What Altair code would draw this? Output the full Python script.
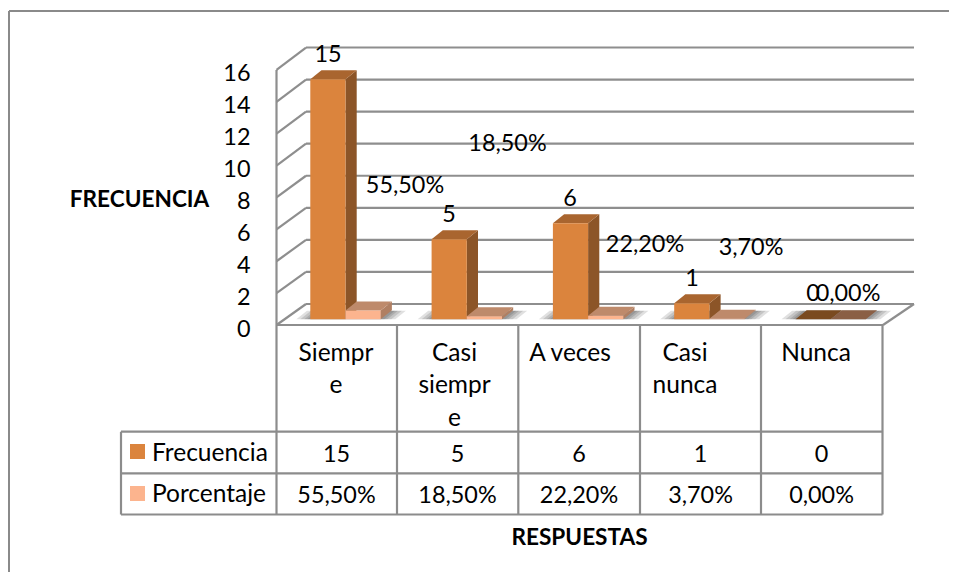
import altair as alt
import pandas as pd

CATEGORIAS = ["Siempr\ne", "Casi\nsiempr\ne", "A veces", "Casi\nnunca", "Nunca"]
FRECUENCIA = [15, 5, 6, 1, 0]
PORCENTAJE = [0.555, 0.185, 0.222, 0.037, 0.0]
NOMBRES = ["Frecuencia", "Porcentaje"]
EJE_Y = [0, 2, 4, 6, 8, 10, 12, 14, 16]

W, H = 941, 564
FONT = "Lato"
FS = 23.4
FS_WORD = 24.5
FS_TITLE = 22.6
GRID = "#8E8E8E"
TABLE = "#8C8C8C"

# pixel layout helpers (image coordinates -> data units)
X0, UX = 276.5, 121.3
Y0, UY = 319.3, 16.0
fx = lambda p: (p - X0) / UX
fy = lambda p: (Y0 - p) / UY
xdom = [fx(8), fx(8 + W)]
ydom = [fy(8 + H), fy(8)]
xs = alt.Scale(domain=xdom, range=[0, W], nice=False, zero=False)
ys = alt.Scale(domain=ydom, range=[H, 0], nice=False, zero=False)

BAR_W = 35.2 / UX
DX = 11.2 / UX
DY = 9.0 / UY
START = 33.8 / UX
PITCH = 1.0

bars, faces, shadows = [], [], []
PAL = [
    dict(front="#DB843D", side="#8C5528", top="#A9652F", top0="#7A4A1F"),
    dict(front="#FCB48E", side="#B07F62", top="#BE8A6B", top0="#8A5F45"),
]
for i in range(len(CATEGORIAS)):
    left = i * PITCH + START
    for s in (14, 10, 6, 3):
        sp = s / UX
        a, b = left - sp, left + 2 * BAR_W + DX + sp
        f0, b0 = 0.0, DY * 0.95
        d = DX * 0.95
        for k, (xx, y1, y2) in enumerate(
            [(a, f0, f0), (a + d, b0, f0), (b - d, b0, f0), (b, b0, b0)]
        ):
            shadows.append(dict(g=f"{i}-{s}", x=xx, y=y1, y2=y2))
    for j, serie in enumerate((FRECUENCIA, PORCENTAJE)):
        v = serie[i]
        xl = left + j * BAR_W
        xr = xl + BAR_W
        pal = PAL[j]
        bars.append(dict(x=xl, x2=xr, y=0, y2=v, color=pal["front"]))
        # side face
        if v > 0:
            for xx, y1, y2 in [(xr, v, 0), (xr + DX, v + DY, DY)]:
                faces.append(dict(g=f"s{i}{j}", x=xx, y=y1, y2=y2, color=pal["side"]))
        # top face
        top = pal["top"] if v > 0 else pal["top0"]
        for xx, y1, y2 in [
            (xl, v, v),
            (xl + DX, v + DY, v),
            (xr, v + DY, v),
            (xr + DX, v + DY, v + DY),
        ]:
            faces.append(dict(g=f"t{i}{j}", x=xx, y=y1, y2=y2, color=top))

bars = pd.DataFrame(bars)
faces = pd.DataFrame(faces)
shadows = pd.DataFrame(shadows)


def segs(rows):
    return pd.DataFrame(
        [dict(x=fx(a), x2=fx(c), y=fy(b), y2=fy(d)) for a, b, c, d in rows]
    )


# walls
back_y = lambda v: 304 - v * 16.03
front_y = lambda v: 325 - v * 15.94
grid_rows = []
for v in EJE_Y:
    grid_rows.append((306, back_y(v), 914, back_y(v)))
    grid_rows.append((276.5, front_y(v), 306, back_y(v)))
grid_rows.append((276.5, front_y(16), 276.5, front_y(0)))
grid_rows.append((276.5, 325, 883, 325))
grid_rows.append((883, 325, 914, 304))
grid = segs(grid_rows)

# data table rules
VX = [276.5, 397, 518.3, 640, 761, 882.5]
table_rows = [(x, 325, x, 514.5) for x in VX]
table_rows += [(121, 431.7, 121, 514.5)]
table_rows += [(121, y, 882.5, y) for y in (431.7, 473.3, 514.5)]
table = segs(table_rows)

# category labels
CAT_X = [336, 454.5, 570, 685, 816]
cats = pd.DataFrame(
    dict(x=[fx(p) for p in CAT_X], y=[fy(341.5)] * 5, t=CATEGORIAS)
)

# table values
CELL_X = [336.5, 457.5, 579, 700.5, 821.5]
pct_txt = [f"{v * 100:.2f}%".replace(".", ",") for v in PORCENTAJE]
cells = pd.DataFrame(
    dict(
        x=[fx(p) for p in CELL_X] * 2,
        y=[fy(455)] * 5 + [fy(496)] * 5,
        t=[str(v) for v in FRECUENCIA] + pct_txt,
    )
)

# legend keys in table
legend_txt = pd.DataFrame(dict(x=[fx(152)] * 2, y=[fy(454), fy(495)], t=NOMBRES))
swatches = pd.DataFrame(
    dict(
        x=[fx(130)] * 2,
        x2=[fx(145)] * 2,
        y=[fy(444), fy(486)],
        y2=[fy(459), fy(501)],
        color=[PAL[0]["front"], PAL[1]["front"]],
    )
)

# data labels
F_POS = [(328, 55), (449, 215), (570, 199), (692, 279), (813, 294)]
P_POS = [(405, 186), (507.5, 144), (645, 245), (751, 248), (848, 294)]
labels = pd.DataFrame(
    dict(
        x=[fx(a) for a, _ in F_POS + P_POS],
        y=[fy(b) for _, b in F_POS + P_POS],
        t=[str(v) for v in FRECUENCIA] + pct_txt,
    )
)

# the frame shows on its top and left sides only
frame = segs([(9, 11, 949, 11), (9, 11, 9, 572)])

X = alt.X(
    "x:Q",
    scale=xs,
    axis=alt.Axis(
        title="RESPUESTAS",
        labels=False,
        ticks=False,
        domain=False,
        grid=False,
        titleFont=FONT,
        titleFontSize=FS_TITLE,
        titleFontWeight="bold",
        titleColor="#000000",
        titleX=571,
        titleY=529 - H,
        titleAlign="center",
        titleBaseline="middle",
    ),
)
Y = alt.Y(
    "y:Q",
    scale=ys,
    axis=alt.Axis(
        title="FRECUENCIA",
        values=EJE_Y,
        offset=-242,
        ticks=False,
        domain=False,
        grid=False,
        labelPadding=0,
        labelOffset=10.5,
        labelFont=FONT,
        labelFontSize=FS,
        labelColor="#000000",
        titleFont=FONT,
        titleFontSize=FS_TITLE,
        titleFontWeight="bold",
        titleColor="#000000",
        titleAngle=0,
        titleX=131 - 242,
        titleY=191,
        titleAlign="center",
        titleBaseline="middle",
    ),
)


def rules(df, color, width):
    return (
        alt.Chart(df)
        .mark_rule(color=color, strokeWidth=width)
        .encode(x=X, x2="x2:Q", y=Y, y2="y2:Q")
    )


def texts(df, **kw):
    opts = dict(font=FONT, fontSize=FS, color="#000000", baseline="middle")
    opts.update(kw)
    return alt.Chart(df).mark_text(**opts).encode(x=X, y=Y, text="t:N")


layers = [
    rules(frame, "#8A8A8A", 2),
    rules(grid, GRID, 2.2),
    alt.Chart(shadows)
    .mark_area(color="#000000", opacity=0.12)
    .encode(x=X, y=Y, y2="y2:Q", detail="g:N"),
    alt.Chart(faces)
    .mark_area()
    .encode(
        x=X,
        y=Y,
        y2="y2:Q",
        detail="g:N",
        color=alt.Color("color:N", scale=None),
    ),
    alt.Chart(bars)
    .mark_bar()
    .encode(
        x=X, x2="x2:Q", y=Y, y2="y2:Q",
        color=alt.Color("color:N", scale=None),
    ),
    rules(table, TABLE, 2.2),
    alt.Chart(swatches)
    .mark_rect()
    .encode(x=X, x2="x2:Q", y=Y, y2="y2:Q", color=alt.Color("color:N", scale=None)),
    texts(cats, lineBreak="\n", lineHeight=32.5, baseline="top", fontSize=FS_WORD),
    texts(cells),
    texts(legend_txt, align="left", fontSize=FS_WORD),
    texts(labels),
]

chart = (
    alt.layer(*layers)
    .properties(
        width=W,
        height=H,
        padding=0,
        autosize=alt.AutoSizeParams(type="none"),
        background="#FFFFFF",
    )
    .configure_view(stroke=None)
)

chart.save("out.html", embed_options={"renderer": "svg", "actions": False})
